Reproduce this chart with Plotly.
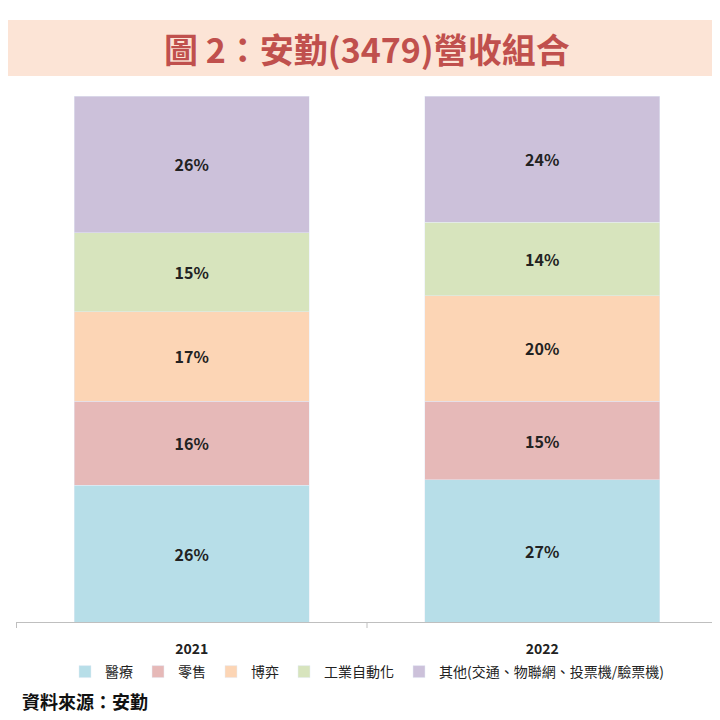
import plotly.graph_objects as go

years = ["2021", "2022"]
series = ["醫療", "零售", "博弈", "工業自動化", "其他(交通、物聯網、投票機/驗票機)"]
values = {
    "醫療": [26, 27],
    "零售": [16, 15],
    "博弈": [17, 20],
    "工業自動化": [15, 14],
    "其他(交通、物聯網、投票機/驗票機)": [26, 24],
}
colors = ["#B7DEE8", "#E6B9B8", "#FCD5B5", "#D7E4BD", "#CCC1DA"]

FONT = "Noto Sans CJK TC"
PLOT_TOP, PLOT_BOT = 88, 614
H = PLOT_BOT - PLOT_TOP


def py(pix):
    # pixel row -> paper y
    return (PLOT_BOT - pix) / H


fig = go.Figure()
for name, c in zip(series, colors):
    fig.add_trace(go.Bar(
        x=years, y=values[name], name=name, marker_color=c,
        text=[f"<b>{v}%</b>" for v in values[name]], textposition="inside",
        insidetextanchor="middle",
        textfont=dict(family=FONT, size=16, color="#222222"),
    ))

fig.update_layout(
    barmode="stack", bargap=0.33,
    width=720, height=720,
    margin=dict(l=8, r=10, t=PLOT_TOP, b=720 - PLOT_BOT, autoexpand=False),
    paper_bgcolor="white", plot_bgcolor="white",
    font=dict(family=FONT, color="#222222"),
    showlegend=True,
    legend=dict(orientation="h", x=0.5, xanchor="center",
                yref="container", y=(720 - 664) / 720, yanchor="middle",
                font=dict(size=14), traceorder="normal",
                bgcolor="rgba(0,0,0,0)"),
    uniformtext=dict(mode="show", minsize=16),
)
fig.update_xaxes(showline=True, linecolor="#BFBFBF", ticklen=0,
                 tickvals=years, ticktext=[f"<b>{y}</b>" for y in years],
                 tickfont=dict(size=14, family=FONT), showgrid=False, ticklabelstandoff=14)
fig.update_yaxes(visible=False, range=[0, 100])

for xv in [-0.5, 0.5, 1.5]:
    fig.add_shape(type="line", xref="x", yref="paper", x0=xv, x1=xv, y0=0, y1=py(620),
                  line=dict(color="#BFBFBF", width=1))

fig.add_shape(type="rect", xref="paper", yref="paper", x0=-0.02, x1=1.02,
              y0=py(68), y1=py(12), fillcolor="#FCE4D6", line_width=0, layer="below")
fig.add_annotation(text="<b>圖 2：安勤(3479)營收組合</b>", xref="paper", yref="paper",
                   x=0.5, y=py(40), yanchor="middle", showarrow=False,
                   font=dict(family=FONT, size=34, color="#C0504D"))
fig.add_annotation(text="<b>資料來源：安勤</b>", xref="paper", yref="paper",
                   x=0.005, xanchor="left", y=py(693), yanchor="middle",
                   showarrow=False, font=dict(family=FONT, size=18, color="#111111"))

fig.write_html("out.html")
